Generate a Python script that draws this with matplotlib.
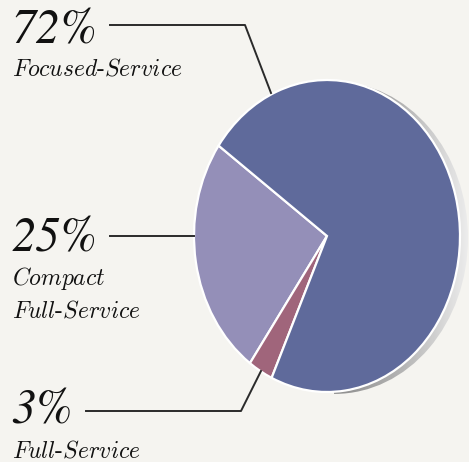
import numpy as np
import matplotlib
matplotlib.use("Agg")
import matplotlib.pyplot as plt
from matplotlib.lines import Line2D
from matplotlib.patches import Ellipse
from matplotlib.colors import LinearSegmentedColormap

# data
segments = ["Compact Full-Service", "Full-Service", "Focused-Service"]
shares = [25, 3, 72]
pct_labels = ["25%", "3%", "72%"]
name_labels = [
    [r"$\mathit{Compact}$", r"$\mathit{Full}$-$\mathit{Service}$"],
    [r"$\mathit{Full}$-$\mathit{Service}$"],
    [r"$\mathit{Focused}$-$\mathit{Service}$"],
]
colors = ["#948fb8", "#a0657b", "#5f6a9b"]

BG = "#f5f4f0"
W, H = 469, 462

plt.rcParams["mathtext.fontset"] = "cm"

fig = plt.figure(figsize=(W / 100, H / 100), dpi=100, facecolor=BG)


def px(x, y):
    # pixel (top-left origin) -> figure fraction
    return x / W, 1 - y / H


# pie axes: centre (327, 236), radii 133 x 156 px
cx, cy, rx, ry = 327, 236, 133, 156
lim = 1.12
ax = fig.add_axes([(cx - rx * lim) / W, 1 - (cy + ry * lim) / H,
                   2 * rx * lim / W, 2 * ry * lim / H])
ax.set_facecolor("none")

# shadow: offset ellipse with horizontal grey gradient
shadow = Ellipse((0.06, -0.012), 2.0, 2.0, facecolor="none", edgecolor="none")
ax.add_patch(shadow)
cmap = LinearSegmentedColormap.from_list("sh", ["#8c8c8c", "#b4b4b4", "#eeeeee"])
grad = np.linspace(0, 1, 256).reshape(1, -1)
img = ax.imshow(grad, cmap=cmap, extent=(0.05, 1.07, -1.05, 1.0), aspect="auto",
                zorder=0.5)
img.set_clip_path(shadow)

wedges, _ = ax.pie(shares, colors=colors, startangle=144.6, counterclock=True,
                   wedgeprops=dict(edgecolor="white", linewidth=1.6))
for w in wedges:
    w.set_zorder(2)
ax.set_aspect("auto")
ax.set_xlim(-lim, lim)
ax.set_ylim(-lim, lim)
ax.axis("off")

# labels
pct_size = 35
name_size = 17
label_pos = {
    "72%": (11, 43, [76]),
    "25%": (11, 252, [285, 318]),
    "3%": (11, 424, [457]),
}
for pct, names in zip(pct_labels, name_labels):
    x, yb, name_ys = label_pos[pct]
    fig.text(*px(x, yb), pct, fontfamily="STIXGeneral", style="italic",
             fontsize=pct_size, va="baseline", ha="left", color="#111111")
    for nm, ny in zip(names, name_ys):
        fig.text(*px(x + 1, ny), nm, fontfamily="cmr10", fontsize=name_size,
                 va="baseline", ha="left", color="#111111")

# leader lines
leaders = [
    [(110, 25), (245, 25), (271, 93)],
    [(110, 236), (194, 236)],
    [(86, 411), (241, 411), (261, 371)],
]
for pts in leaders:
    xs, ys = zip(*[px(*p) for p in pts])
    fig.add_artist(Line2D(xs, ys, color="#2a2a2a", lw=1.4,
                          transform=fig.transFigure))

fig.savefig("out.png", dpi=100, facecolor=BG)
